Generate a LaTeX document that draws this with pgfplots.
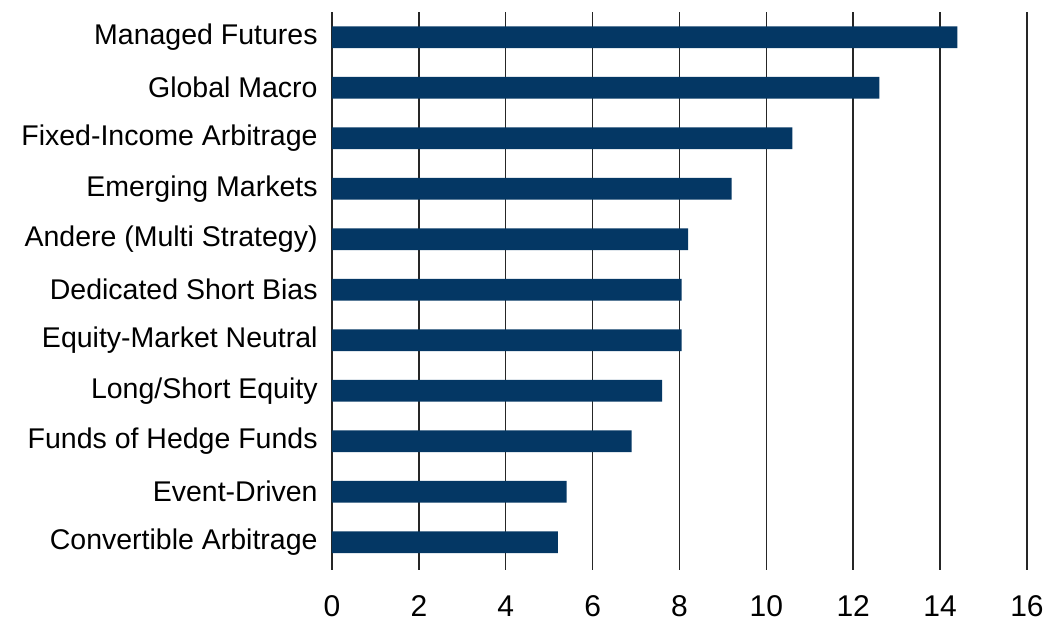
\documentclass[border=0pt]{standalone}
\usepackage{fontspec}
\setmainfont{Liberation Sans}
\usepackage{pgfplots}
\pgfplotsset{compat=1.18}
\usetikzlibrary{calc}
\definecolor{barnavy}{RGB}{4,55,100}

\begin{document}
\begin{tikzpicture}
\begin{axis}[
  name=ax,
  scale only axis,
  width=347.5pt,
  height=279pt,
  xbar,
  bar width=10.8pt,
  xmin=0, xmax=16,
  ymin=-0.55, ymax=10.5,
  xtick={0,2,...,16},
  ytick={0,...,10},
  yticklabels={Convertible Arbitrage,Event-Driven,Funds of Hedge Funds,Long/Short Equity,Equity-Market Neutral,Dedicated Short Bias,Andere (Multi Strategy),Emerging Markets,Fixed-Income Arbitrage,Global Macro,Managed Futures},
  axis line style={draw=none},
  xmajorgrids,
  major grid style={black!85, line width=0.75pt},
  major tick length=0pt,
  tick style={draw=none},
  /pgf/number format/assume math mode=true,
  yticklabel style={font=\fontsize{14.25}{16}\selectfont, anchor=east, inner sep=0pt, xshift=-7pt},
  xticklabel style={font=\fontsize{15}{17}\selectfont, anchor=north, inner sep=0pt, yshift=-12.5pt},
]
\addplot[fill=barnavy, draw=none] coordinates {
  (5.2,0) (5.4,1) (6.9,2) (7.6,3) (8.05,4) (8.05,5) (8.2,6) (9.2,7) (10.6,8) (12.6,9) (14.4,10)
};
\end{axis}
\pgfresetboundingbox
\path ($(ax.south west)+(-166pt,-25pt)$) rectangle ($(ax.north east)+(12pt,6pt)$);
\end{tikzpicture}
\end{document}
